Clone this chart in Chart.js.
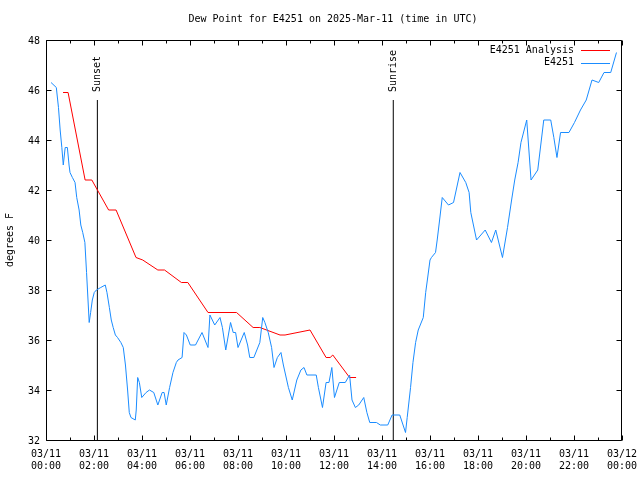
<!DOCTYPE html>
<html>
<head>
<meta charset="utf-8">
<title>Dew Point for E4251</title>
<script src="https://cdn.jsdelivr.net/npm/chart.js@4"></script>
<style>
    html, body { margin: 0; padding: 0; background: #fff; }
    canvas { display: block; }
</style>
</head>
<body>
<canvas id="dewChart" width="640" height="480"></canvas>
<script>
// ========================================
// Dew point, station E4251, 2025-Mar-11 (UTC)
// x values are hours since 03/11 00:00
// ========================================

const obsHours = [
    0.21, 0.43, 0.52, 0.59, 0.66, 0.72, 0.80, 0.89, 0.96, 1.00, 1.10, 1.21, 1.28, 1.38, 1.45,
    1.53, 1.62, 1.69, 1.80, 1.86, 1.93, 2.01, 2.10, 2.28, 2.47, 2.54, 2.64, 2.72, 2.80, 2.89,
    2.98, 3.12, 3.22, 3.31, 3.40, 3.47, 3.54, 3.72, 3.76, 3.82, 3.89, 3.99, 4.17, 4.31, 4.49,
    4.66, 4.84, 4.92, 5.01, 5.15, 5.29, 5.43, 5.50, 5.67, 5.75, 5.85, 6.01, 6.23, 6.50, 6.75,
    6.83, 7.03, 7.25, 7.35, 7.49, 7.69, 7.80, 7.90, 8.00, 8.26, 8.40, 8.49, 8.66, 8.91, 9.03,
    9.12, 9.26, 9.40, 9.50, 9.64, 9.79, 9.89, 10.10, 10.26, 10.45, 10.62, 10.75, 10.87, 11.26,
    11.35, 11.52, 11.67, 11.79, 11.91, 12.02, 12.22, 12.47, 12.65, 12.75, 12.89, 13.03, 13.24,
    13.37, 13.49, 13.77, 13.93, 14.24, 14.42, 14.74, 14.98, 15.05, 15.19, 15.29, 15.40, 15.51,
    15.72, 15.82, 15.89, 16.00, 16.06, 16.23, 16.30, 16.40, 16.51, 16.77, 16.98, 17.25, 17.49,
    17.63, 17.70, 17.94, 18.30, 18.56, 18.74, 19.02, 19.23, 19.40, 19.53, 19.67, 19.79, 20.03,
    20.21, 20.49, 20.74, 21.03, 21.16, 21.29, 21.44, 21.79, 22.02, 22.27, 22.51, 22.75, 23.03,
    23.25, 23.53, 23.77
];
const obsValues = [
    46.3, 46.1, 45.3, 44.4, 43.7, 43.0, 43.7, 43.7, 43.0, 42.7, 42.5, 42.3, 41.7, 41.2, 40.6,
    40.3, 39.9, 38.7, 36.7, 37.1, 37.6, 37.9, 38.0, 38.1, 38.2, 37.9, 37.3, 36.8, 36.5, 36.2,
    36.1, 35.9, 35.7, 35.0, 34.0, 33.1, 32.9, 32.8, 33.2, 34.5, 34.3, 33.7, 33.9, 34.0, 33.9,
    33.4, 33.9, 33.9, 33.4, 34.1, 34.7, 35.1, 35.2, 35.3, 36.3, 36.2, 35.8, 35.8, 36.3, 35.7,
    37.0, 36.6, 36.9, 36.5, 35.6, 36.7, 36.3, 36.3, 35.7, 36.3, 35.8, 35.3, 35.3, 35.9, 36.9,
    36.7, 36.3, 35.7, 34.9, 35.3, 35.5, 35.0, 34.1, 33.6, 34.4, 34.8, 34.9, 34.6, 34.6,
    34.1, 33.3, 34.3, 34.3, 34.9, 33.7, 34.3, 34.3, 34.6, 33.6, 33.3, 33.4, 33.7,
    33.1, 32.7, 32.7, 32.6, 32.6, 33.0, 33.0, 32.3, 32.9, 34.1, 35.1, 35.9, 36.4,
    36.9, 37.9, 38.4, 39.2, 39.3, 39.5, 40.0, 40.8, 41.7, 41.4, 41.5, 42.7, 42.3,
    41.9, 41.1, 40.0, 40.4, 39.9, 40.4, 39.3, 40.5, 41.6, 42.4, 43.1, 43.9, 44.8,
    42.4, 42.8, 44.8, 44.8, 44.1, 43.3, 44.3, 44.3, 44.7, 45.2, 45.6, 46.4, 46.3,
    46.7, 46.7, 47.5
];

const analysisHours = [
    0.71, 0.92, 1.63, 1.91, 2.61, 2.92, 3.75, 4.03, 4.66, 4.94, 5.64, 5.91,
    6.75, 7.94, 8.63, 8.91, 9.75, 9.96, 11.00, 11.67, 11.84, 11.95, 12.65, 12.92
];
const analysisValues = [
    45.9, 45.9, 42.4, 42.4, 41.2, 41.2, 39.3, 39.2, 38.8, 38.8, 38.3, 38.3,
    37.1, 37.1, 36.5, 36.5, 36.2, 36.2, 36.4, 35.3, 35.3, 35.4, 34.5, 34.5
];

const sunMarkers = ['Sunset', 'Sunrise'];
const sunHours = [2.14, 14.47];
const sunLineTop = 45.6;

const xTickHours = [0, 2, 4, 6, 8, 10, 12, 14, 16, 18, 20, 22, 24];
const xTickDates = ['03/11', '03/11', '03/11', '03/11', '03/11', '03/11', '03/11',
    '03/11', '03/11', '03/11', '03/11', '03/11', '03/12'];
const xTickTimes = ['00:00', '02:00', '04:00', '06:00', '08:00', '10:00', '12:00',
    '14:00', '16:00', '18:00', '20:00', '22:00', '00:00'];
const yTicks = [32, 34, 36, 38, 40, 42, 44, 46, 48];

const seriesNames = ['E4251 Analysis', 'E4251'];
const seriesColors = ['#ff0000', '#1a8cff'];

const FONT = '10px "DejaVu Sans Mono", "Liberation Mono", monospace';

const toPoints = (xs, ys) => xs.map((x, i) => ({ x: x, y: ys[i] }));

// Frame, mirrored ticks, labels and key, drawn the gnuplot way
const gnuplotFrame = {
    id: 'gnuplotFrame',

    beforeDraw(chart) {
        const ctx = chart.ctx;
        ctx.save();
        ctx.fillStyle = '#fff';
        ctx.fillRect(0, 0, chart.width, chart.height);
        ctx.restore();
    },

    afterDraw(chart) {
        const { ctx, chartArea: a, scales: { x, y } } = chart;
        const left = a.left + 0.5, right = a.right - 0.5;
        const top = a.top + 0.5, bottom = a.bottom + 0.5;

        ctx.save();
        ctx.strokeStyle = '#000';
        ctx.lineWidth = 1;
        ctx.beginPath();
        ctx.moveTo(left, top);
        ctx.lineTo(right, top);
        ctx.lineTo(right, bottom);
        ctx.lineTo(left, bottom);
        ctx.closePath();

        // hourly ticks, longer on even hours
        for (let h = 0; h <= 24; h++) {
            const px = Math.round(x.getPixelForValue(h)) + 0.5;
            const len = h % 2 === 0 ? 5 : 3;
            ctx.moveTo(px, bottom);
            ctx.lineTo(px, bottom - len);
            ctx.moveTo(px, top);
            ctx.lineTo(px, top + len);
        }
        yTicks.forEach(v => {
            const py = Math.round(y.getPixelForValue(v)) + 0.5;
            ctx.moveTo(left, py);
            ctx.lineTo(left + 5, py);
            ctx.moveTo(right, py);
            ctx.lineTo(right - 5, py);
        });
        ctx.stroke();

        ctx.fillStyle = '#000';
        ctx.font = FONT;
        ctx.textBaseline = 'middle';

        // y tick labels
        ctx.textAlign = 'right';
        yTicks.forEach(v => {
            ctx.fillText(String(v), a.left - 6, y.getPixelForValue(v) + 1);
        });

        // x tick labels, two lines
        ctx.textAlign = 'center';
        xTickHours.forEach((h, i) => {
            const px = x.getPixelForValue(h);
            ctx.fillText(xTickDates[i], px, a.bottom + 14);
            ctx.fillText(xTickTimes[i], px, a.bottom + 26);
        });

        // title
        ctx.fillText('Dew Point for E4251 on 2025-Mar-11 (time in UTC)', 333, 19.5);

        // axis title
        ctx.save();
        ctx.translate(10, 240);
        ctx.rotate(-Math.PI / 2);
        ctx.fillText('degrees F', 0, 0);
        ctx.restore();

        // sunset / sunrise labels above their lines
        sunHours.forEach((h, i) => {
            ctx.save();
            ctx.translate(x.getPixelForValue(h) + 0.5, y.getPixelForValue(sunLineTop) - 8);
            ctx.rotate(-Math.PI / 2);
            ctx.textAlign = 'left';
            ctx.fillText(sunMarkers[i], 0, 0);
            ctx.restore();
        });

        // key, top right
        seriesNames.forEach((name, i) => {
            const ky = 50 + i * 12.5;
            ctx.textAlign = 'right';
            ctx.fillStyle = '#000';
            ctx.fillText(name, 574, ky);
            ctx.strokeStyle = seriesColors[i];
            ctx.beginPath();
            ctx.moveTo(581, Math.round(ky) + 0.5);
            ctx.lineTo(610, Math.round(ky) + 0.5);
            ctx.stroke();
        });

        ctx.restore();
    }
};

const lineStyle = {
    showLine: true,
    borderWidth: 1,
    pointRadius: 0,
    pointHoverRadius: 0,
    tension: 0,
    fill: false
};

const datasets = [
    {
        ...lineStyle,
        label: seriesNames[1],
        data: toPoints(obsHours, obsValues),
        borderColor: seriesColors[1],
        order: 0
    },
    {
        ...lineStyle,
        label: seriesNames[0],
        data: toPoints(analysisHours, analysisValues),
        borderColor: seriesColors[0],
        order: 1
    }
];

sunHours.forEach((h, i) => {
    datasets.push({
        ...lineStyle,
        label: sunMarkers[i],
        data: [{ x: h, y: 32 }, { x: h, y: sunLineTop }],
        borderColor: '#000',
        order: 2
    });
});

new Chart(document.getElementById('dewChart'), {
    type: 'scatter',
    data: { datasets: datasets },
    options: {
        responsive: false,
        devicePixelRatio: 1,
        animation: false,
        layout: { padding: { left: 46, right: 18, top: 40, bottom: 40 } },
        plugins: {
            legend: { display: false },
            tooltip: { enabled: false },
            title: { display: false }
        },
        scales: {
            x: { type: 'linear', min: 0, max: 24, display: false },
            y: { type: 'linear', min: 32, max: 48, display: false }
        }
    },
    plugins: [gnuplotFrame]
});
</script>
</body>
</html>
